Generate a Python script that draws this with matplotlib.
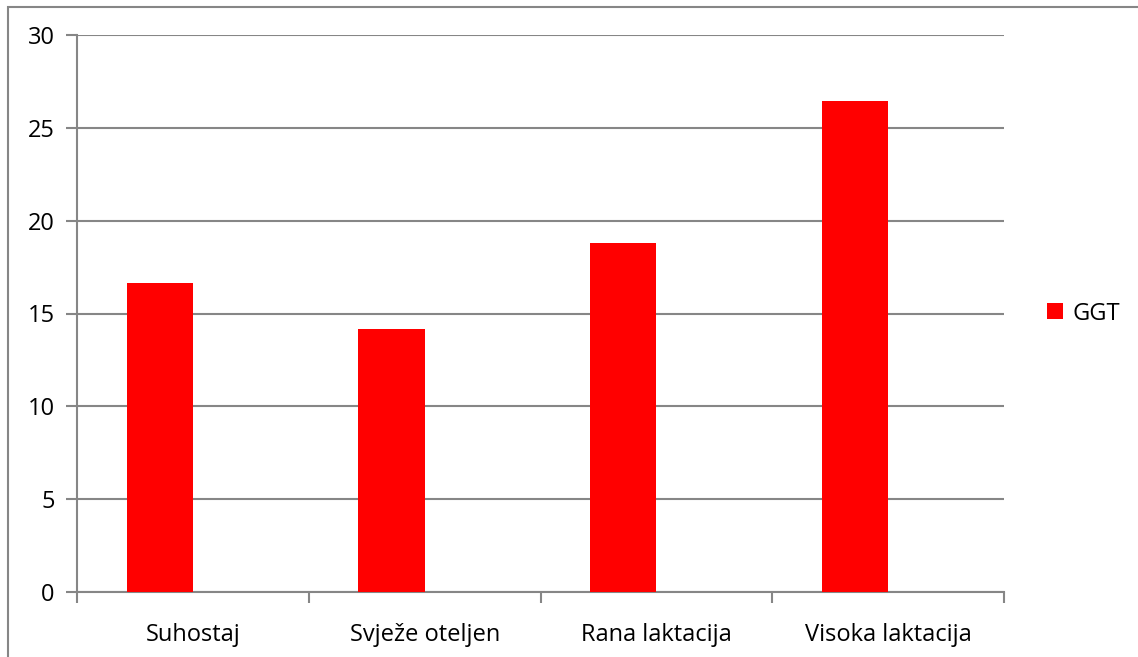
import matplotlib.pyplot as plt
from matplotlib.patches import Rectangle

kategorije = ["Suhostaj", "Svježe oteljen", "Rana laktacija", "Visoka laktacija"]
ggt = [16.66, 14.16, 18.81, 26.44]
yticks = [0, 5, 10, 15, 20, 25, 30]

plt.rcParams['font.family'] = ['Open Sans', 'DejaVu Sans']

fig = plt.figure(figsize=(11.38, 6.57), dpi=100)
W, H = 1138, 657
ax = fig.add_axes([77/W, (H-592)/H, (1004-77)/W, (592-35)/H])

# outer chart frame (only left and top show)
fig.patches.append(Rectangle((8/W, -0.1), 1.2, (H-7)/H + 0.1, transform=fig.transFigure,
                             fill=False, edgecolor='#868686', linewidth=1.5))

# two-series cluster, only first series present
sirina = 0.2857
x = range(len(kategorije))
ax.bar([i - sirina/2 for i in x], ggt, width=sirina, color='#ff0000', label='GGT', zorder=3)

ax.set_xlim(-0.5, len(kategorije) - 0.5)
ax.set_ylim(0, 30)
ax.set_yticks(yticks)
ax.yaxis.grid(True, color='#868686', linewidth=1.5)
ax.set_axisbelow(True)

ax.set_xticks([i - 0.5 for i in range(len(kategorije) + 1)])
ax.set_xticklabels([])
ax.set_xticks(list(x), minor=True)
ax.set_xticklabels(kategorije, minor=True, fontsize=17)
ax.tick_params(axis='x', which='minor', length=0, pad=22)
ax.tick_params(axis='x', which='major', length=8, width=1.5, color='#868686')
ax.tick_params(axis='y', length=8, width=1.5, color='#868686', labelsize=17, pad=8)

for s in ['top', 'right']:
    ax.spines[s].set_visible(False)
for s in ['left', 'bottom']:
    ax.spines[s].set_color('#868686')
    ax.spines[s].set_linewidth(1.5)

ax.legend(loc='center left', bbox_to_anchor=(1.024, 0.5), frameon=False, fontsize=17,
          handlelength=0.65, handleheight=0.65, handletextpad=0.4)

fig.savefig('out.png', dpi=100)
